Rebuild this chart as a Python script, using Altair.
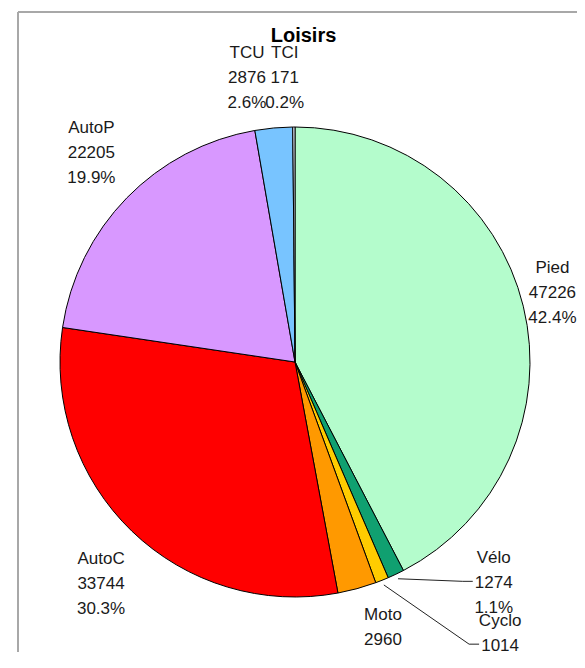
import altair as alt
import pandas as pd

# ---- data ----
categories = ["Pied", "Vélo", "Cyclo", "Moto", "AutoC", "AutoP", "TCU", "TCI"]
values = [47226, 1274, 1014, 2960, 33744, 22205, 2876, 171]
colors = ["#b4fccc", "#10a070", "#ffcc00", "#ff9900", "#ff0000", "#d898ff", "#78c4ff", "#e8f0ff"]

# ---- label layout (offsets from radial anchor, in px; anchor = first text line) ----
label_dx = {"Pied": 0, "Vélo": 85, "Cyclo": 107, "Moto": 18, "AutoC": -10,
            "AutoP": -14, "TCU": -24, "TCI": -9}
label_dy = {"Pied": -31, "Vélo": -43, "Cyclo": 13, "Moto": -3, "AutoC": 6,
            "AutoP": -49, "TCU": -45, "TCI": -44}
has_leader = {"Vélo": True, "Cyclo": True}

W, H = 559, 640
CX, CY = 277, 350
R = 235
R_LABEL = 265
R_LEAD = 240
FONT = "Liberation Sans"

df = pd.DataFrame({
    "cat": categories,
    "value": values,
    "idx": list(range(len(categories))),
    "dx": [label_dx[c] for c in categories],
    "dy": [label_dy[c] for c in categories],
    "leader": [has_leader.get(c, False) for c in categories],
})

base = alt.Chart(df)

arcs = base.mark_arc(stroke="black", strokeWidth=1, radius=R).encode(
    theta=alt.Theta("value:Q", stack=True),
    color=alt.Color("cat:N", scale=alt.Scale(domain=categories, range=colors), legend=None),
    order=alt.Order("idx:Q"),
    x=alt.value(CX),
    y=alt.value(CY),
)

calc = base.transform_joinaggregate(total="sum(value)").transform_window(
    cum="sum(value)", sort=[alt.SortField("idx")], frame=[None, 0]
).transform_calculate(
    mid="(datum.cum - datum.value/2) / datum.total * 2 * PI",
    pct="format(datum.value / datum.total * 100, '.1f') + '%'",
).transform_calculate(
    label="datum.cat + '\\n' + datum.value + '\\n' + datum.pct",
    lx=f"{CX} + {R_LABEL} * sin(datum.mid) + datum.dx",
    ly=f"{CY} - {R_LABEL} * cos(datum.mid) + datum.dy",
    sx=f"{CX} + {R_LEAD} * sin(datum.mid)",
    sy=f"{CY} - {R_LEAD} * cos(datum.mid)",
).transform_calculate(
    ex="datum.lx - 31",
    fx="datum.lx - 21",
    ey="datum.ly + 23",
)

labels = calc.mark_text(
    font=FONT, fontSize=17, lineHeight=25, lineBreak="\n",
    align="center", baseline="middle", color="#1a1a1a",
).encode(
    x=alt.X("lx:Q", scale=None, axis=None),
    y=alt.Y("ly:Q", scale=None, axis=None),
    text="label:N",
)

lead1 = calc.transform_filter("datum.leader").mark_rule(color="#222", strokeWidth=1).encode(
    x=alt.X("sx:Q", scale=None, axis=None),
    y=alt.Y("sy:Q", scale=None, axis=None),
    x2="ex:Q",
    y2="ey:Q",
)
lead2 = calc.transform_filter("datum.leader").mark_rule(color="#222", strokeWidth=1).encode(
    x=alt.X("ex:Q", scale=None, axis=None),
    y=alt.Y("ey:Q", scale=None, axis=None),
    x2="fx:Q",
    y2="ey:Q",
)

# frame (top and left edges of the grey box; right/bottom lie outside the picture)
deco = alt.Chart(pd.DataFrame({"k": [0]}))
frame_top = deco.mark_rule(color="#a8a8a8", strokeWidth=2).encode(
    x=alt.value(0), x2=alt.value(W), y=alt.value(0)
)
frame_left = deco.mark_rule(color="#a8a8a8", strokeWidth=2).encode(
    x=alt.value(0), y=alt.value(0), y2=alt.value(H)
)

chart = alt.layer(frame_top, frame_left, arcs, lead1, lead2, labels).properties(
    width=W,
    height=H,
    title=alt.Title("Loisirs", font=FONT, fontSize=20, fontWeight="bold",
                    color="black", anchor="middle", offset=-35, dx=6),
    padding={"left": 10, "top": 4, "right": 0, "bottom": 0},
    autosize=alt.AutoSizeParams(type="none"),
).configure_view(stroke=None)

chart.save("out.html", embed_options={"renderer": "svg", "actions": False})
